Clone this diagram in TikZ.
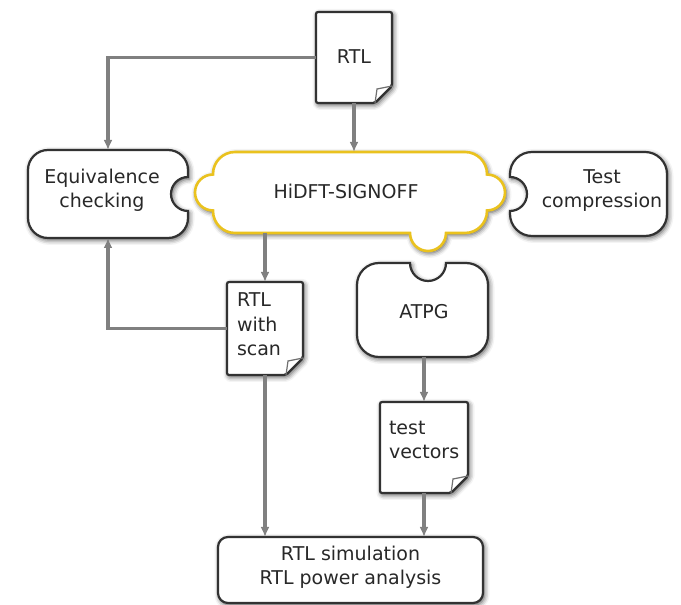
\documentclass[tikz,border=0pt]{standalone}
\usepackage{fontspec}
\setmainfont{DejaVu Sans}
\usetikzlibrary{arrows.meta}
\usetikzlibrary{positioning}
\usetikzlibrary{shadows.blur}
\definecolor{linegray}{RGB}{128,128,128}
\definecolor{edgegray}{RGB}{50,50,50}
\definecolor{textgray}{RGB}{40,40,40}
\definecolor{signoffyellow}{RGB}{234,194,30}
\tikzset{
% Define standard arrow tip
>={Latex[length=10pt, width=9pt]},
shapeline/.style={draw=edgegray, line width=2.2pt, fill=white,
  blur shadow={shadow xshift=1.5pt, shadow yshift=-2pt, shadow blur radius=5pt, shadow opacity=70}},
flapline/.style={draw=edgegray!70, line width=1.2pt},
flow/.style={draw=linegray, line width=3.2pt, ->},
boxtext/.style={text=textgray, font=\fontsize{19}{24.5}\selectfont, inner sep=0, outer sep=0, align=center}
}

\begin{document}
\begin{tikzpicture}[x=1pt, y=1pt, inner sep=0, outer sep=0]
  \useasboundingbox (0,0) rectangle (681,605);

  \node[rectangle,
    minimum height = 81pt,
    minimum width = 274pt] (signoff) at (350, 412.5) {};

  \node[rectangle,
    minimum height = 88pt,
    minimum width = 160pt] (eqv) at ([xshift=-242pt, yshift=-1.5pt]signoff.center) {};

  \node[rectangle,
    minimum height = 84pt,
    minimum width = 157pt] (comp) at ([xshift=238.5pt, yshift=-1.5pt]signoff.center) {};

  \node[rectangle,
    minimum height = 91pt,
    minimum width = 76pt] (rtl) at ([xshift=4pt, yshift=135pt]signoff.center) {};

  \node[rectangle,
    minimum height = 93pt,
    minimum width = 76pt] (scan) at ([xshift=-85pt, yshift=-136pt]signoff.center) {};

  \node[rectangle,
    minimum height = 94pt,
    minimum width = 131pt] (atpg) at ([xshift=72.5pt, yshift=-117.5pt]signoff.center) {};

  \node[rectangle,
    minimum height = 91pt,
    minimum width = 88pt] (vectors) at ([xshift=1.5pt, yshift=-137.5pt]atpg.center) {};

  % outlines
  \draw[shapeline, draw=signoffyellow, line width=2.6pt]
    ([yshift=18pt]signoff.west) arc[start angle=90, end angle=270, radius=18pt]
    [rounded corners=22pt] -- (signoff.south west)
    [sharp corners] -- ([xshift=60pt]signoff.south)
    arc[start angle=180, end angle=360, radius=18pt]
    [rounded corners=22pt] -- (signoff.south east)
    [sharp corners] -- ([yshift=-18pt]signoff.east)
    arc[start angle=-90, end angle=90, radius=18pt]
    [rounded corners=22pt] -- (signoff.north east) -- (signoff.north west)
    [sharp corners] -- cycle;

  \draw[shapeline]
    ([yshift=17pt]eqv.east) arc[start angle=90, end angle=270, radius=17pt]
    [rounded corners=20pt] -- (eqv.south east) -- (eqv.south west) -- (eqv.north west) -- (eqv.north east)
    [sharp corners] -- cycle;

  \draw[shapeline]
    ([yshift=-17pt]comp.west) arc[start angle=-90, end angle=90, radius=17pt]
    [rounded corners=22pt] -- (comp.north west) -- (comp.north east) -- (comp.south east) -- (comp.south west)
    [sharp corners] -- cycle;

  \draw[shapeline]
    ([xshift=23.5pt]atpg.north) arc[start angle=0, end angle=-180, radius=18pt]
    [rounded corners=22pt] -- (atpg.north west) -- (atpg.south west) -- (atpg.south east) -- (atpg.north east)
    [sharp corners] -- cycle;

  \draw[shapeline, rounded corners=2pt]
    (rtl.north west) -- (rtl.north east) -- ([yshift=17pt]rtl.south east)
    -- ([xshift=-17pt]rtl.south east) -- (rtl.south west) -- cycle;
  \draw[flapline] ([xshift=-17pt]rtl.south east) -- ([xshift=-15pt, yshift=14pt]rtl.south east) -- ([yshift=17pt]rtl.south east);

  \draw[shapeline, rounded corners=2pt]
    (scan.north west) -- (scan.north east) -- ([yshift=17pt]scan.south east)
    -- ([xshift=-17pt]scan.south east) -- (scan.south west) -- cycle;
  \draw[flapline] ([xshift=-17pt]scan.south east) -- ([xshift=-15pt, yshift=14pt]scan.south east) -- ([yshift=17pt]scan.south east);

  \draw[shapeline, rounded corners=2pt]
    (vectors.north west) -- (vectors.north east) -- ([yshift=17pt]vectors.south east)
    -- ([xshift=-17pt]vectors.south east) -- (vectors.south west) -- cycle;
  \draw[flapline] ([xshift=-17pt]vectors.south east) -- ([xshift=-15pt, yshift=14pt]vectors.south east) -- ([yshift=17pt]vectors.south east);

  \node[rectangle, shapeline,
    rounded corners=10pt,
    minimum height = 66pt,
    minimum width = 265pt] (sim) at (350.5, 35) {};

  % texts
  \node[boxtext] (signoff-text) at ([xshift=-4pt, yshift=1pt]signoff.center) {HiDFT-SIGNOFF};
  \node[boxtext] (eqv-text) at ([xshift=-6pt, yshift=3.5pt]eqv.center) {Equivalence\\checking};
  \node[boxtext] (comp-text) at ([xshift=13.5pt, yshift=3.5pt]comp.center) {Test\\compression};
  \node[boxtext] (rtl-text) at ([yshift=1pt]rtl.center) {RTL};
  \node[boxtext, align=left, anchor=north west] (scan-text) at ([xshift=10pt, yshift=-11pt]scan.north west) {RTL\\with\\scan};
  \node[boxtext] (atpg-text) at ([xshift=1.5pt, yshift=-2pt]atpg.center) {ATPG};
  \node[boxtext, align=left, anchor=north west] (vectors-text) at ([xshift=9pt, yshift=-19pt]vectors.north west) {test\\vectors};
  \node[boxtext] (sim-text) at ([yshift=2.5pt]sim.center) {RTL simulation\\RTL power analysis};

  % connectors
  \draw[flow] (rtl.south) -- (rtl.south |- signoff.north);
  \draw[flow] (rtl.west) -| (eqv.north);
  \draw[flow] (signoff.south -| scan.north) -- (scan.north);
  \draw[flow] (scan.west) -| (eqv.south);
  \draw[flow] (scan.south) -- (scan.south |- sim.north);
  \draw[flow] (atpg.south -| vectors.north) -- (vectors.north);
  \draw[flow] (vectors.south) -- (vectors.south |- sim.north);
\end{tikzpicture}
\end{document}
